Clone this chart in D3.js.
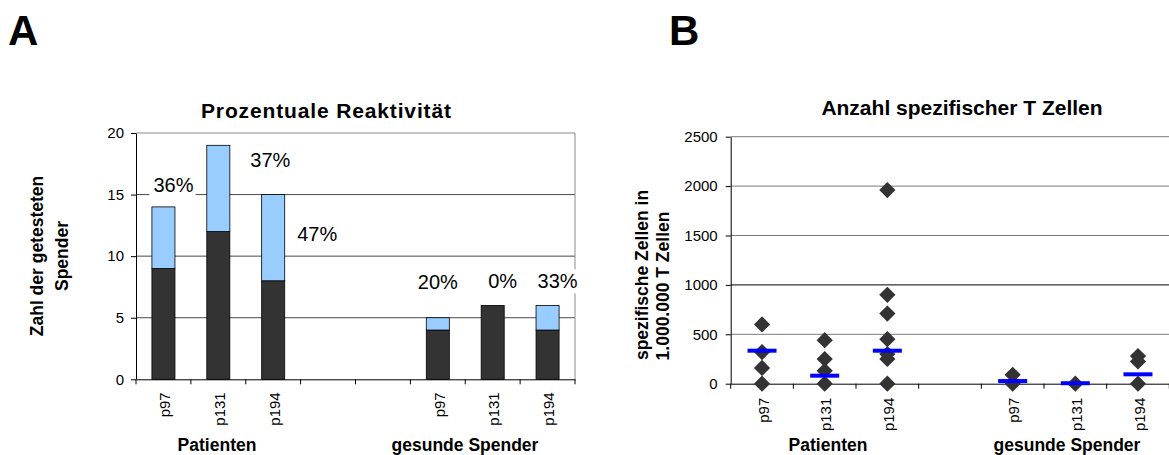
<!DOCTYPE html>
<html>
<head>
<meta charset="utf-8">
<script src="https://cdn.jsdelivr.net/npm/d3@7"></script>
<style>
  body { margin: 0; background: #fff; }
  svg text { font-family: "Liberation Sans", Arial, Helvetica, sans-serif; fill: #000; }
</style>
</head>
<body>
<svg id="fig" width="1169" height="455"></svg>
<script>
// ---- Panel A: tested donors per peptide (non-reactive + reactive) ----
const slotsA = ["P-p97", "P-p131", "P-p194", "gapA1", "gapA2", "H-p97", "H-p131", "H-p194"];
const barSlotsA = ["P-p97", "P-p131", "P-p194", "H-p97", "H-p131", "H-p194"];
const nonReactive = [9, 12, 8, 4, 6, 4];
const reactive = [5, 7, 7, 1, 0, 2];
const ticksA = [0, 5, 10, 15, 20];

// ---- Panel B: specific T cells per 1,000,000 T cells ----
const slotsB = ["P-p97", "P-p131", "P-p194", "gapB", "H-p97", "H-p131", "H-p194"];
const specPatP97 = [600, 320, 160, 0];
const specPatP131 = [440, 250, 130, 0];
const specPatP194 = [1960, 900, 710, 450, 300, 250, 0];
const specHealthyP97 = [90, 0];
const specHealthyP131 = [0];
const specHealthyP194 = [280, 225, 0];
const markerSlots = ["P-p97", "P-p131", "P-p194", "H-p97", "H-p131", "H-p194"];
const averageLevel = [334, 81, 334, 27, 5, 95];
const ticksB = [0, 500, 1000, 1500, 2000, 2500];

const peptideOfSlot = { "P-p97": "p97", "P-p131": "p131", "P-p194": "p194",
                        "H-p97": "p97", "H-p131": "p131", "H-p194": "p194" };
const groupNames = ["Patienten", "gesunde Spender"];

const svg = d3.select("#fig");

// panel letters
svg.append("text").attr("x", 8).attr("y", 45)
  .style("font-size", "42px").style("font-weight", "bold").text("A");
svg.append("text").attr("x", 669).attr("y", 45)
  .style("font-size", "42px").style("font-weight", "bold").text("B");

// ================= Panel A =================
const A = { left: 136, right: 575, top: 133, bottom: 379.3 };
const xA = d3.scaleBand().domain(slotsA).range([A.left, A.right]).padding(0);
const yA = d3.scaleLinear().domain([0, 20]).range([A.bottom, A.top]);
const gA = svg.append("g");

// grid + plot border
gA.selectAll("line.grid").data(ticksA.filter(t => t > 0)).join("line")
  .attr("x1", A.left).attr("x2", A.right)
  .attr("y1", d => yA(d)).attr("y2", d => yA(d))
  .attr("stroke", d => d === 20 ? "#8c8c8c" : "#4a4a4a").attr("stroke-width", 1);
gA.append("line").attr("x1", A.right).attr("x2", A.right)
  .attr("y1", A.top).attr("y2", A.bottom).attr("stroke", "#8c8c8c");

// stacked bars
const barW = xA.bandwidth() * 0.42;
const barsA = barSlotsA.map((s, i) => ({ slot: s, low: nonReactive[i], high: reactive[i] }));
gA.selectAll("rect.low").data(barsA).join("rect")
  .attr("x", d => xA(d.slot) + (xA.bandwidth() - barW) / 2)
  .attr("width", barW)
  .attr("y", d => yA(d.low))
  .attr("height", d => yA(0) - yA(d.low))
  .attr("fill", "#333333").attr("stroke", "#000").attr("stroke-width", 0.8);
gA.selectAll("rect.high").data(barsA.filter(d => d.high > 0)).join("rect")
  .attr("x", d => xA(d.slot) + (xA.bandwidth() - barW) / 2)
  .attr("width", barW)
  .attr("y", d => yA(d.low + d.high))
  .attr("height", d => yA(d.low) - yA(d.low + d.high))
  .attr("fill", "#99ccff").attr("stroke", "#000").attr("stroke-width", 0.8);

// axes
const axLeftA = gA.append("g").attr("transform", `translate(${A.left},0)`)
  .call(d3.axisLeft(yA).tickValues(ticksA).tickSize(5).tickSizeOuter(0).tickPadding(7)
    .tickFormat(d3.format("d")));
const axBottomA = gA.append("g").attr("transform", `translate(0,${A.bottom})`)
  .call(d3.axisBottom(xA).tickSize(0).tickSizeOuter(0)
    .tickFormat(s => peptideOfSlot[s] || ""));
[axLeftA, axBottomA].forEach(ax => {
  ax.select(".domain").attr("stroke", "#000");
  ax.selectAll("line").attr("stroke", "#000");
  ax.selectAll("text").style("font-size", "15px").attr("fill", "#000");
});
// category boundary ticks on the x axis
gA.selectAll("line.xtick").data(d3.range(slotsA.length + 1)).join("line")
  .attr("x1", i => A.left + i * xA.step()).attr("x2", i => A.left + i * xA.step())
  .attr("y1", A.bottom).attr("y2", A.bottom + 5).attr("stroke", "#000");
axBottomA.selectAll("text")
  .attr("transform", "rotate(-90)").attr("x", -13).attr("y", 0).attr("dy", "0.45em")
  .style("text-anchor", "end");

// percentage labels (share of reactive donors), placed as free text boxes
const pctOffset = [[10, -22], [52, 15], [44, 39], [0, -36], [10, -24], [10, -24]];
const pctG = gA.append("g");
barsA.forEach((d, i) => {
  const total = d.low + d.high;
  const pct = Math.round(100 * d.high / total) + "%";
  const cx = xA(d.slot) + xA.bandwidth() / 2 + pctOffset[i][0];
  const cy = yA(total) + pctOffset[i][1];
  const grp = pctG.append("g");
  const bg = grp.append("rect").attr("fill", "#fff");
  const t = grp.append("text").attr("x", cx).attr("y", cy).attr("dy", "0.35em")
    .attr("text-anchor", "middle").style("font-size", "20px").text(pct);
  const bb = t.node().getBBox();
  bg.attr("x", bb.x - 4).attr("y", bb.y - 1).attr("width", bb.width + 6).attr("height", bb.height + 2);
});

// titles
gA.append("text").attr("x", 326).attr("y", 118).attr("text-anchor", "middle")
  .attr("textLength", 250).attr("lengthAdjust", "spacing")
  .style("font-size", "21px").style("font-weight", "bold").text("Prozentuale Reaktivität");
[["Zahl der getesteten", 37], ["Spender", 62]].forEach(([s, x]) => {
  gA.append("text").attr("transform", `translate(${x},256) rotate(-90)`)
    .attr("text-anchor", "middle").attr("dy", "0.35em")
    .style("font-size", "17.5px").style("font-weight", "bold").text(s);
});
gA.append("text").attr("x", 217).attr("y", 451).attr("text-anchor", "middle")
  .style("font-size", "17.5px").style("font-weight", "bold").text(groupNames[0]);
gA.append("text").attr("x", 465).attr("y", 451).attr("text-anchor", "middle")
  .style("font-size", "17.5px").style("font-weight", "bold").text(groupNames[1]);

// ================= Panel B =================
const B = { left: 730.7, right: 1169.3, top: 136.7, bottom: 383.7 };
const xB = d3.scaleBand().domain(slotsB).range([B.left, B.right]).padding(0);
const yB = d3.scaleLinear().domain([0, 2500]).range([B.bottom, B.top]);
const gB = svg.append("g");

gB.selectAll("line.grid").data(ticksB.filter(t => t > 0)).join("line")
  .attr("x1", B.left).attr("x2", B.right)
  .attr("y1", d => yB(d)).attr("y2", d => yB(d))
  .attr("stroke", d => d === 1000 ? "#000" : "#7a7a7a").attr("stroke-width", 1);

const axLeftB = gB.append("g").attr("transform", `translate(${B.left},0)`)
  .call(d3.axisLeft(yB).tickValues(ticksB).tickSize(5).tickSizeOuter(0).tickPadding(8)
    .tickFormat(d3.format("d")));
const axBottomB = gB.append("g").attr("transform", `translate(0,${B.bottom})`)
  .call(d3.axisBottom(xB).tickSize(0).tickSizeOuter(0)
    .tickFormat(s => peptideOfSlot[s] || ""));
[axLeftB, axBottomB].forEach(ax => {
  ax.select(".domain").attr("stroke", "#000");
  ax.selectAll("line").attr("stroke", "#000");
  ax.selectAll("text").style("font-size", "15px").attr("fill", "#000");
});
gB.selectAll("line.xtick").data(d3.range(slotsB.length + 1)).join("line")
  .attr("x1", i => B.left + i * xB.step()).attr("x2", i => B.left + i * xB.step())
  .attr("y1", B.bottom).attr("y2", B.bottom + 5).attr("stroke", "#000");
axBottomB.selectAll("text")
  .attr("transform", "rotate(-90)").attr("x", -14).attr("y", 0).attr("dy", "0.45em")
  .style("text-anchor", "end");

// individual donors as diamonds
const donorSets = [specPatP97, specPatP131, specPatP194, specHealthyP97, specHealthyP131, specHealthyP194];
const points = [];
donorSets.forEach((vals, i) => vals.forEach(v => points.push({ slot: markerSlots[i], v })));
const diamond = d3.symbol().type(d3.symbolSquare).size(132);
gB.selectAll("path.pt").data(points).join("path")
  .attr("d", diamond)
  .attr("transform", d => `translate(${xB(d.slot) + xB.bandwidth() / 2},${yB(d.v)}) rotate(45)`)
  .attr("fill", "#333333");

// group averages as blue bars
gB.selectAll("line.avg").data(markerSlots.map((s, i) => ({ slot: s, v: averageLevel[i] }))).join("line")
  .attr("x1", d => xB(d.slot) + xB.bandwidth() / 2 - 14.5)
  .attr("x2", d => xB(d.slot) + xB.bandwidth() / 2 + 14.5)
  .attr("y1", d => yB(d.v)).attr("y2", d => yB(d.v))
  .attr("stroke", "#0000ff").attr("stroke-width", 4);

gB.append("text").attr("x", 962).attr("y", 115).attr("text-anchor", "middle")
  .style("font-size", "21px").style("font-weight", "bold").text("Anzahl spezifischer T Zellen");
[["spezifische Zellen in", 642, 275], ["1.000.000 T Zellen", 663, 286]].forEach(([s, x, y]) => {
  gB.append("text").attr("transform", `translate(${x},${y}) rotate(-90)`)
    .attr("text-anchor", "middle").attr("dy", "0.35em")
    .style("font-size", "17.5px").style("font-weight", "bold").text(s);
});
gB.append("text").attr("x", 828).attr("y", 451).attr("text-anchor", "middle")
  .style("font-size", "17.5px").style("font-weight", "bold").text(groupNames[0]);
gB.append("text").attr("x", 1067).attr("y", 451).attr("text-anchor", "middle")
  .style("font-size", "17.5px").style("font-weight", "bold").text(groupNames[1]);
</script>
</body>
</html>
